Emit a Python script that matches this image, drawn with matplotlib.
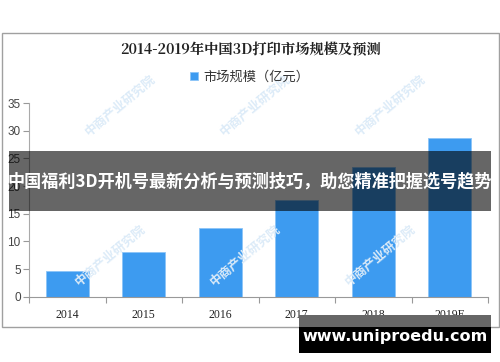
import matplotlib
matplotlib.use("Agg")
import matplotlib.pyplot as plt
from matplotlib.patches import Rectangle

years = ["2014", "2015", "2016", "2017", "2018", "2019E"]
market_size = [4.6, 8.0, 12.4, 17.5, 23.5, 28.6]
yticks = [0, 5, 10, 15, 20, 25, 30, 35]

title = "2014-2019年中国3D打印市场规模及预测"
legend_label = "市场规模（亿元）"
banner = "中国福利3D开机号最新分析与预测技巧，助您精准把握选号趋势"
site = "www.uniproedu.com"

plt.rcParams['font.family'] = ['Noto Sans CJK SC', 'DejaVu Sans']

fig = plt.figure(figsize=(5.0, 3.62), dpi=100)
W, H = 500, 362

def fx(x):
    return x / W

def fy(y):
    return 1 - y / H

# outer frame
fig.patches.append(Rectangle((fx(1.5), fy(326.7)), fx(497), (326.7 - 33) / H,
                             transform=fig.transFigure, fill=False,
                             edgecolor='#a0a0a0', linewidth=1.0, zorder=0))

# watermarks
for yy, xs in [(105, [120, 255, 390]), (255, [110, 245, 380])]:
    for xx in xs:
        fig.text(fx(xx), fy(yy), "中商产业研究院", fontsize=9,
                 color='#dcebf8', rotation=40, ha='center', va='center',
                 zorder=0.5, fontweight='bold')

ax = fig.add_axes([fx(29), fy(296.7), fx(488 - 29), (296.7 - 103) / H])
ax.set_facecolor('none')
x = list(range(len(years)))
bars = ax.bar(x, market_size, width=0.56, color='#3d9bf0',
              edgecolor='#8cc4f7', linewidth=0.6, label=legend_label, zorder=2)
ax.set_xlim(-0.5, len(years) - 0.5)
ax.set_ylim(0, 35)
ax.set_yticks(yticks)
ax.set_yticklabels([str(t) for t in yticks], fontsize=8.5, color='#444444',
                   family=['Liberation Sans', 'DejaVu Sans'])
ax.set_xticks([i - 0.5 for i in range(len(years) + 1)], minor=False)
ax.set_xticklabels([''] * (len(years) + 1))
ax.set_xticks(x, minor=True)
ax.set_xticklabels(years, minor=True, fontsize=8.5, color='#222222',
                   family=['Liberation Serif', 'DejaVu Serif'])
ax.tick_params(axis='x', which='minor', length=0, pad=9)
ax.tick_params(axis='x', which='major', length=4, color='#999999', direction='out')
ax.tick_params(axis='y', length=4, color='#999999', direction='out', pad=2)
for s in ['top', 'right']:
    ax.spines[s].set_visible(False)
ax.spines['left'].set_color('#aaaaaa')
ax.spines['bottom'].set_color('#999999')

fig.text(0.5, fy(50), title, ha='center', va='center', fontsize=10.3,
         fontweight='bold', color='#222222',
         family=['Noto Serif CJK SC', 'Noto Sans CJK SC', 'DejaVu Sans'])
leg = fig.legend(handles=[bars], labels=[legend_label], loc='center',
                 bbox_to_anchor=(fx(250), fy(77)), frameon=False, fontsize=9.5,
                 handlelength=0.6, handleheight=0.6, handletextpad=0.4)
for t in leg.get_texts():
    t.set_color('#333333')

# banner overlay
fig.patches.append(Rectangle((fx(9), fy(210.7)), fx(491 - 9), (210.7 - 151) / H,
                             transform=fig.transFigure, facecolor='black',
                             alpha=0.6, edgecolor='none', zorder=5))
fig.text(fx(250), fy(181.5), banner, ha='center', va='center', fontsize=12.3,
         fontweight='bold', color='white', zorder=6)

# site box
fig.patches.append(Rectangle((fx(299), fy(352.7)), fx(491 - 299), (352.7 - 327) / H,
                             transform=fig.transFigure, facecolor='black',
                             edgecolor='none', zorder=5))
fig.patches.append(Rectangle((fx(299), fy(327)), fx(491 - 299), (327 - 315) / H,
                             transform=fig.transFigure, facecolor='#666666',
                             edgecolor='none', zorder=5))
fig.text(fx(395), fy(336.5), site, ha='center', va='center', fontsize=11.5,
         fontweight='bold', color='white', zorder=6,
         family=['DejaVu Sans'])

fig.savefig('out.png', dpi=100)
